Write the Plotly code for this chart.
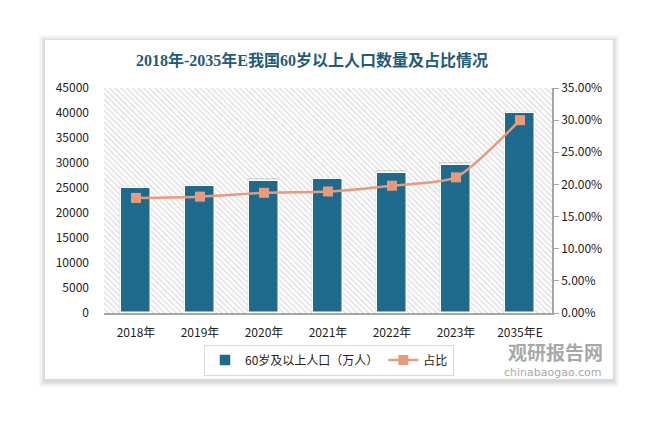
import plotly.graph_objects as go

categories = ["2018年", "2019年", "2020年", "2021年", "2022年", "2023年", "2035年E"]
population = [24949, 25388, 26402, 26736, 28004, 29697, 40000]
share = [0.179, 0.181, 0.187, 0.189, 0.198, 0.211, 0.300]

W, H = 653, 425
L, R, T, B = 104, 552, 88, 313
PW, PH = R - L, B - T

def px(x):
    return (x - L) / PW

def py(y):
    return (B - y) / PH

BAR = "#1D6A8D"
LINE = "#E89B7B"
FONT = "Noto Sans CJK SC, DejaVu Sans, sans-serif"

fig = go.Figure()

# hatched plot background
fig.add_trace(go.Bar(
    x=categories, y=[45000] * len(categories), width=1.0,
    marker=dict(color="white", line=dict(width=0),
                pattern=dict(shape="\\", fgcolor="#BBBBBB", bgcolor="white", size=4, solidity=0.35)),
    showlegend=False, hoverinfo="skip",
))
# bar shadows
fig.add_trace(go.Bar(
    x=categories, y=[v + 500 for v in population], width=0.5, offset=-0.27,
    marker=dict(color="rgba(0,0,0,0.12)", line=dict(width=0)),
    showlegend=False, hoverinfo="skip",
))
fig.add_trace(go.Bar(
    x=categories, y=population, width=0.46, name="60岁及以上人口（万人）",
    marker=dict(color=BAR, line=dict(color="white", width=1.5)),
))
fig.add_trace(go.Scatter(
    x=categories, y=share, yaxis="y2", name="占比", mode="lines+markers",
    line=dict(color=LINE, width=2.5, shape="spline", smoothing=0.6),
    marker=dict(symbol="square", size=10, color=LINE),
))

shapes = []
# card shadow
for i, a in enumerate([0.03, 0.03, 0.04, 0.05]):
    d = 6 - i * 1.5
    shapes.append(dict(type="rect", xref="paper", yref="paper", layer="below",
                       x0=px(45 - d), x1=px(613 + d), y0=py(379 + d + 2), y1=py(40 - d + 1),
                       fillcolor=f"rgba(0,0,0,{a})", line=dict(width=0)))
shapes.append(dict(type="rect", xref="paper", yref="paper", layer="below",
                   x0=px(45), x1=px(613), y0=py(379), y1=py(40),
                   fillcolor="white", line=dict(width=0)))

fig.update_layout(
    width=W, height=H,
    margin=dict(l=L, r=W - R, t=T, b=H - B),
    paper_bgcolor="white", plot_bgcolor="rgba(0,0,0,0)",
    barmode="overlay", bargap=0,
    font=dict(family=FONT, size=12, color="#333333"),
    title=dict(text="<b>2018年-2035年E我国60岁以上人口数量及占比情况</b>",
               x=312 / W, xanchor="center", xref="container", y=1 - 60 / H, yref="container", yanchor="middle",
               font=dict(family="Liberation Serif, Noto Sans CJK SC, serif", size=16, color="#1F5C7A")),
    xaxis=dict(type="category", showgrid=False, showline=True, linecolor="#A6A6A6", linewidth=1.5,
               ticks="", tickfont=dict(size=12, color="#222222"), range=[-0.5, 6.5],
               ticklabelstandoff=8),
    yaxis=dict(range=[0, 45000], dtick=5000, tickformat="d", showgrid=False, zeroline=False, showline=False,
               tickfont=dict(size=12, color="#222222"), ticklabelstandoff=14),
    yaxis2=dict(range=[0, 0.35], dtick=0.05, tickformat=".2%", overlaying="y", side="right",
                showgrid=False, zeroline=False, showline=True, linecolor="#A6A6A6", linewidth=1.5,
                ticks="outside", ticklen=5, tickcolor="#A6A6A6",
                tickfont=dict(size=12, color="#222222")),
    legend=dict(orientation="h", x=px(329), xanchor="center", y=py(360), yanchor="middle",
                bordercolor="#D9D9D9", borderwidth=1, bgcolor="white",
                font=dict(size=12, color="#222222")),
    shapes=shapes,
    annotations=[
        dict(text="<b>观研报告网</b>", xref="paper", yref="paper", x=px(555), y=py(351),
             xanchor="center", yanchor="middle",
             showarrow=False, font=dict(size=19, color="#A8A8A8", family=FONT)),
        dict(text="chinabaogao.com", xref="paper", yref="paper", x=px(553), y=py(372),
             xanchor="center", yanchor="middle",
             showarrow=False, font=dict(size=11, color="#A8A8A8", family="DejaVu Sans, sans-serif")),
    ],
)

fig.write_html("out.html")
